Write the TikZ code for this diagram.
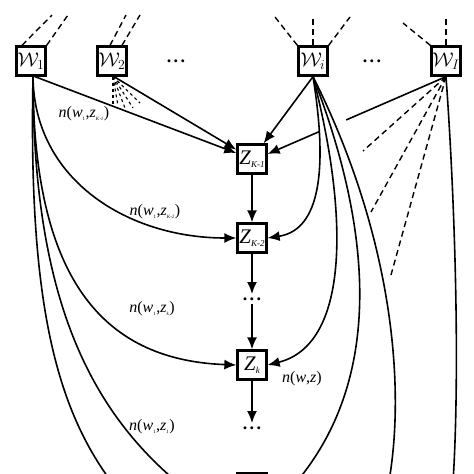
\documentclass[tikz,border=0pt]{standalone}
\usepackage{fontspec}
\setmainfont{Liberation Serif}
\usetikzlibrary{arrows.meta,calc}
\newcommand{\nwz}[2]{\textit{n}(\textit{w}\textsubscript{\tiny #1},\textit{z}\textsubscript{\tiny\textit{#2}})}
\newcommand{\zlab}[1]{\textit{Z}\raisebox{-0.3ex}{\small\textit{#1}}}
\newcommand{\wlab}[1]{\scalebox{1.15}{\LARGE$\mathcal{W}_{#1}$}}
\newcommand{\bigdots}{{\fontsize{18}{18}\selectfont\textbf{.\hspace{2.5pt}.\hspace{2.5pt}.}}}

\begin{document}
\begin{tikzpicture}[x=1pt,y=-1pt,
  wbox/.style={draw,line width=2.3pt,minimum size=29pt,inner sep=0pt},
  link/.style={line width=1.6pt},
  larrow/.style={link,-{Latex[length=12pt,width=10pt]}},
  dsh/.style={line width=1.4pt,dash pattern=on 6pt off 4pt},
  fan/.style={line width=1.1pt,dash pattern=on 3pt off 3pt},
  lbl/.style={font=\fontsize{16}{18}\selectfont}]
  \useasboundingbox (0,0) rectangle (474,474);
  \clip (0,0) rectangle (474,474);

  \node[wbox] (w1) at (31,61) {\wlab{1}};   %word boxes
  \node[wbox] (w2) at (112,61) {\wlab{2}};
  \node (hdots1) at (176,61) {\bigdots};
  \node[wbox] (wi) at (313,61) {\wlab{i}};
  \node (hdots2) at (372,61) {\bigdots};
  \node[wbox] (wI) at (446,61) {\wlab{I}};

  \node[wbox] (zK1) at (252,159) {\huge\zlab{K-1}};      %topic chain
  \node[wbox] (zK2) at (252,238) {\huge\zlab{K-2}};
  \node (vdots1) at (252,299) {\bigdots};
  \node[wbox] (zk) at (252,365) {\huge\zlab{k}};
  \node (vdots2) at (252,428) {\bigdots};
  \node[wbox] (z1) at (252,488) {};

  \draw[larrow] (zK1) -- (zK2);
  \draw[larrow] (zK2) -- (vdots1);
  \draw[larrow] (vdots1) -- (zk);
  \draw[larrow] (zk) -- (vdots2);

  % free ends below the frame
  \coordinate (offA) at (200,500);
  \coordinate (offB) at (135,510);
  \coordinate (offC) at (280,500);
  \coordinate (offD) at (380,520);
  \coordinate (offE) at (450,520);
  \coordinate (w1b) at ([xshift=2pt]w1.south);
  \coordinate (zK1e) at ([yshift=5pt]zK1.east);

  \draw[larrow] ([xshift=4pt]w1.south) -- (zK1);  %straight links into z_{K-1}
  \draw[larrow] ([xshift=2pt]w2.south) -- (zK1);
  \draw[larrow] (wi.south) -- (zK1);
  \draw[link] (wI.south) -- ($(wI.south)!0.56!(zK1e)$);
  \draw[larrow] ($(wI.south)!0.71!(zK1e)$) -- (zK1e);

  \draw[larrow] (w1b) .. controls (34,180) and (128,238) .. (zK2.west);  %curves from w_1
  \draw[larrow] (w1b) .. controls (33,275) and (100,360) .. (zk.west);
  \draw[link] (w1b) .. controls (33,300) and (90,420) .. (offA);
  \draw[link] (w1b) .. controls (28,320) and (60,430) .. (offB);

  \draw[larrow] (wi.south) .. controls (328,170) and (320,230) .. (zK2.east);  %curves from w_i
  \draw[larrow] (wi.south) .. controls (350,220) and (348,345) .. (zk.east);
  \draw[link] (wi.south) .. controls (380,250) and (380,400) .. (offC);
  \draw[link] (wi.south) .. controls (400,250) and (410,420) .. (offD);

  \draw[link] (wI.south) .. controls (455,200) and (462,400) .. (offE);  %curve from w_I

  \foreach \x/\y [count=\n] in {363/151, 371/212, 391/275}
  {
    \coordinate (wIstub\n) at (\x,\y);
    \draw[dsh] (wI.south) -- (wIstub\n);
  }

  \foreach \x/\y [count=\n] in {113/105, 118/106, 125/108, 133/108, 140/103}
  {
    \coordinate (wtwofan\n) at (\x,\y);
    \draw[fan] ([xshift=1pt]w2.south) -- (wtwofan\n);
  }

  % dashed stubs above the word boxes
  \coordinate (t1) at (52,15);   \draw[dsh] ([xshift=-9pt]w1.north) -- (t1);
  \coordinate (t2) at (68,15);   \draw[dsh] (w1.north east) -- (t2);
  \coordinate (t3) at (126,15);  \draw[dsh] ([xshift=-2pt]w2.north) -- (t3);
  \coordinate (t4) at (140,15);  \draw[dsh] ([xshift=10pt]w2.north) -- (t4);
  \coordinate (t5) at (275,17);  \draw[dsh] (wi.north west) -- (t5);
  \coordinate (t6) at (313,17);  \draw[dsh] (wi.north) -- (t6);
  \coordinate (t7) at (350,17);  \draw[dsh] (wi.north east) -- (t7);
  \coordinate (t8) at (403,23);  \draw[dsh] (wI.north west) -- (t8);
  \coordinate (t9) at (446,18);  \draw[dsh] (wI.north) -- (t9);

  \node[lbl] (lK1) at (84,114) {\nwz{1}{K-1}};   %link weights
  \node[lbl] (lK2) at (155,212) {\nwz{1}{K-2}};
  \node[lbl] (lk) at (152,309) {\nwz{1}{k}};
  \node[lbl] (lone) at (152,427) {\nwz{1}{1}};
  \node[lbl] (lwz) at (302,379) {\textit{n}(\textit{w},\textit{z})};
\end{tikzpicture}
\end{document}
